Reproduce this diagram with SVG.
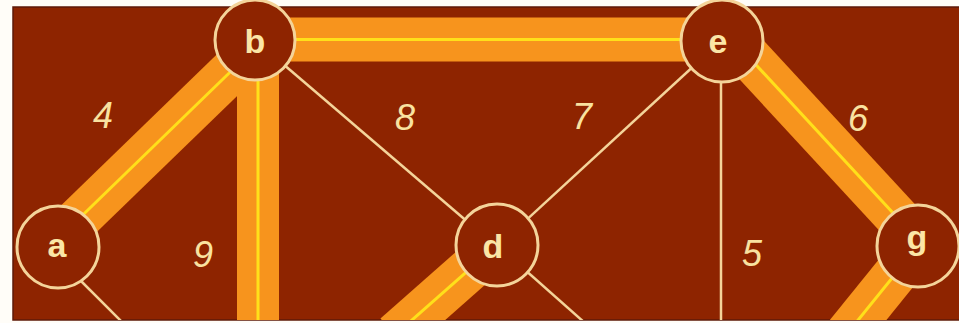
<svg xmlns="http://www.w3.org/2000/svg" width="959" height="323" viewBox="0 0 959 323">
<defs>
<style>
.bg{fill:#8e2400;stroke:#5e1a08;stroke-width:1.5}
.band{stroke:#f7941d;stroke-width:44;fill:none}
.core{stroke:#ffe01a;stroke-width:3;fill:none}
.thin{stroke:#f4d49a;stroke-width:2.5;fill:none}
.node{fill:#8e2400;stroke:#f4d49a;stroke-width:3}
.nl{font-family:"Liberation Sans",Arial,sans-serif;font-size:34px;font-weight:bold;fill:#fbe6a6;text-anchor:middle}
.wl{font-family:"Liberation Sans",Arial,sans-serif;font-size:36px;font-style:italic;fill:#f9e2a0;text-anchor:middle}
</style>
<clipPath id="clip"><rect x="13" y="7" width="946" height="313"/></clipPath>
</defs>
<rect x="0" y="0" width="959" height="323" fill="#fffdf8"/>
<rect class="bg" x="13" y="7" width="950" height="313"/>
<g id="connectors" clip-path="url(#clip)">
<line class="thin" x1="70" y1="270" x2="132" y2="332"/>
<line class="thin" x1="255" y1="40" x2="497" y2="247"/>
<line class="thin" x1="722" y1="40" x2="497" y2="247"/>
<line class="thin" x1="721" y1="40" x2="721" y2="335"/>
<line class="thin" x1="497" y1="245" x2="594" y2="331"/>
<line class="band" x1="58" y1="239" x2="255" y2="48"/>
<line class="core" x1="58" y1="239" x2="255" y2="48"/>
<line class="band" x1="255" y1="39.5" x2="722" y2="39.5"/>
<line class="core" x1="255" y1="39.5" x2="722" y2="39.5"/>
<line class="band" x1="258" y1="40" x2="258" y2="335" style="stroke-width:42"/>
<line class="core" x1="258" y1="40" x2="258" y2="335"/>
<line class="band" x1="722" y1="28" x2="918" y2="240"/>
<line class="core" x1="722" y1="28" x2="918" y2="240"/>
<line class="band" x1="497" y1="245" x2="395" y2="335"/>
<line class="core" x1="497" y1="245" x2="395" y2="335"/>
<line class="band" x1="918" y1="246" x2="846" y2="335"/>
<line class="core" x1="918" y1="246" x2="846" y2="335"/>
</g>
<g id="label-4"><text class="wl" x="103" y="128">4</text></g>
<g id="label-9"><text class="wl" x="203" y="267">9</text></g>
<g id="label-8"><text class="wl" x="405" y="130">8</text></g>
<g id="label-7"><text class="wl" x="582" y="129">7</text></g>
<g id="label-6"><text class="wl" x="858" y="131">6</text></g>
<g id="label-5"><text class="wl" x="752" y="266">5</text></g>
<g id="node-a"><circle class="node" cx="58" cy="247" r="41"/><text class="nl" x="57" y="257">a</text></g>
<g id="node-b"><circle class="node" cx="255" cy="40" r="40"/><text class="nl" x="255" y="53">b</text></g>
<g id="node-d"><circle class="node" cx="497" cy="245" r="41"/><text class="nl" x="493" y="258">d</text></g>
<g id="node-e"><circle class="node" cx="722" cy="41" r="41"/><text class="nl" x="718" y="53">e</text></g>
<g id="node-g"><circle class="node" cx="918" cy="246" r="41"/><text class="nl" x="917" y="249">g</text></g>
</svg>
